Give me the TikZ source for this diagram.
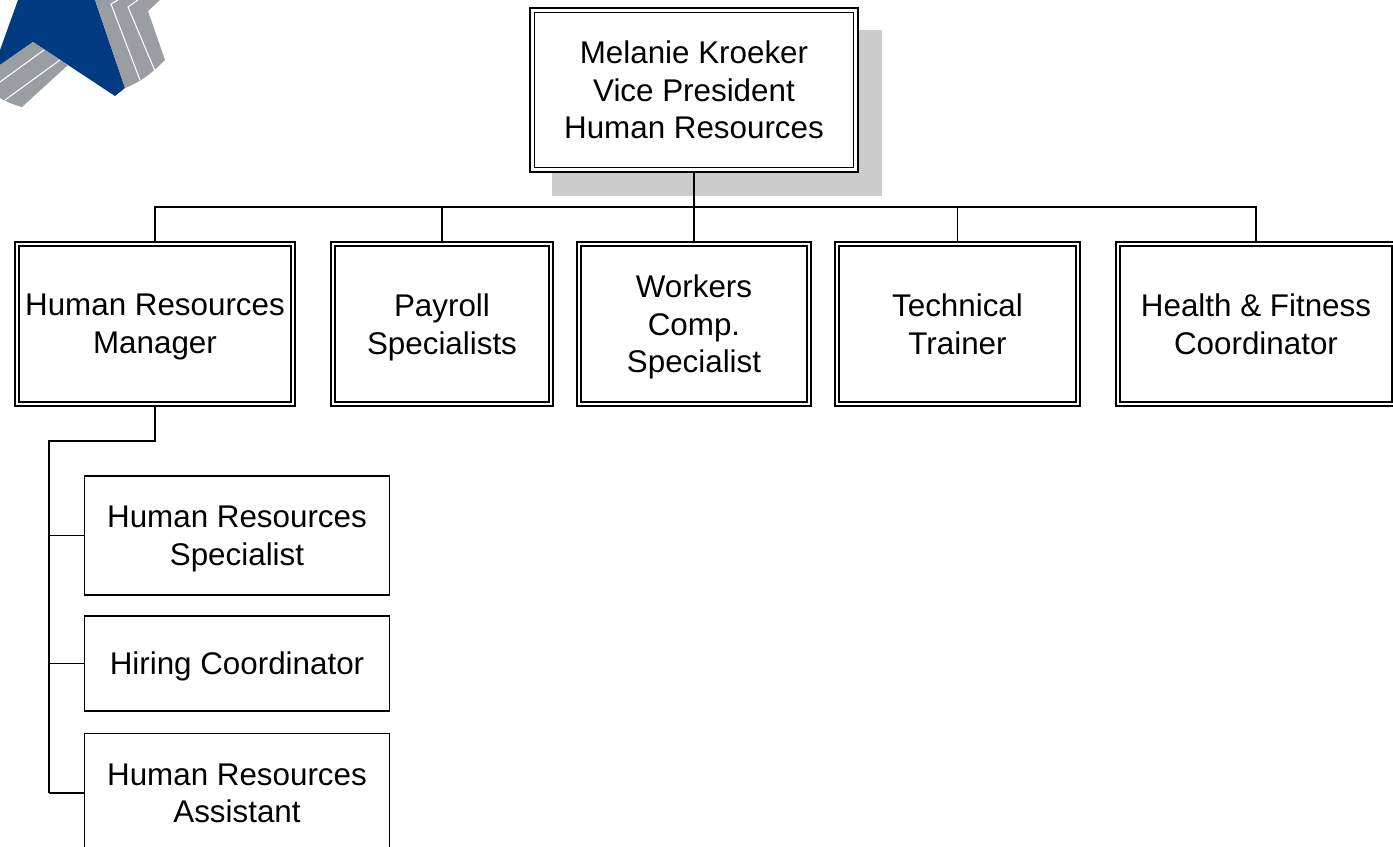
\documentclass[tikz,border=0pt]{standalone}
\usepackage{fontspec}
\setmainfont{Liberation Sans}
\definecolor{logoblue}{HTML}{003A80}
\definecolor{logogray}{HTML}{9A9EA2}
\definecolor{shadowgray}{HTML}{CCCCCC}
\tikzset{
  dblbox/.style={draw, double, line width=0.95pt, double distance=1.5pt, fill=white, inner sep=0pt, outer sep=1.7pt, align=center, minimum height=3.2cm, text depth=0pt, font=\fontsize{17.85}{21.4}\selectfont},
  plainbox/.style={draw, line width=0.85pt, fill=white, inner sep=0pt, outer sep=0pt, align=center, minimum width=6.1cm, text depth=0pt, font=\fontsize{17.85}{21.4}\selectfont},
  conn/.style={line width=0.9pt},
  connthick/.style={line width=1.5pt},
  logoline/.style={white, line width=0.6pt}
}
\begin{document}
\begin{tikzpicture}[x=0.02cm, y=-0.02cm]
  \useasboundingbox (0, 0) rectangle (1393, 846);

  % logo
  \fill[logoblue] (18, 0) -- (95, 0) -- (125, 88) -- (115, 96) -- (68, 65) -- (33, 42) -- (0, 65) -- (0, 50) -- cycle;
  \fill[logogray] (95, 0) -- (160, 0) -- (148, 11) -- (165, 60) .. controls (150, 75) and (140, 82) .. (125, 88) -- cycle;
  \fill[logogray] (33, 42) -- (68, 65) -- (22, 107) .. controls (14, 105) and (7, 102) .. (0, 98) -- (0, 65) -- cycle;
  \draw[logoline] (118, 0) -- (111, 4) -- (140, 80);
  \draw[logoline] (138, 0) -- (128, 7) -- (155, 71);
  \draw[logoline] (44, 50) -- (0, 82);
  \draw[logoline] (60, 60) -- (5, 100);

  \fill[shadowgray] (552, 30) rectangle (882, 196);

  \node[dblbox, minimum width=6.47cm, minimum height=3.19cm] (vp) at (694, 90) {Melanie Kroeker\\Vice President\\Human Resources};

  \node[dblbox, minimum width=5.52cm] (hrm) at (155, 324) {Human Resources\\Manager};
  \node[dblbox, minimum width=4.36cm] (payroll) at (442, 324) {Payroll\\Specialists};
  \node[dblbox, minimum width=4.6cm] (workers) at (694, 324) {Workers\\Comp.\\Specialist};
  \node[dblbox, minimum width=4.82cm] (technical) at (957.5, 324) {Technical\\Trainer};
  \node[dblbox, minimum width=5.52cm] (health) at (1256, 324) {Health \& Fitness\\Coordinator};

  \node[plainbox, minimum height=2.38cm] (hrspec) at (237, 535.5) {Human Resources\\Specialist};
  \node[plainbox, minimum height=1.9cm] (hiring) at (237, 663.5) {Hiring Coordinator};
  \node[plainbox, minimum height=2.38cm] (hrasst) at (237, 793) {Human Resources\\Assistant};

  \coordinate (bus) at (694, 207);
  \coordinate (trunk) at (49, 441);

  \draw[connthick] (vp.south) -- (bus);
  \draw[conn] (hrm.north) |- (bus) -| (health.north);
  \foreach \nd in {payroll, workers, technical} {
    \draw[conn] (\nd.north) -- (\nd.north |- bus);
  }

  \draw[connthick] (hrm.south) |- (trunk) -- (trunk |- hrasst.west);
  \foreach \nd in {hrspec, hiring, hrasst} {
    \draw[conn] (\nd.west) -- (\nd.west -| trunk);
  }
\end{tikzpicture}
\end{document}
